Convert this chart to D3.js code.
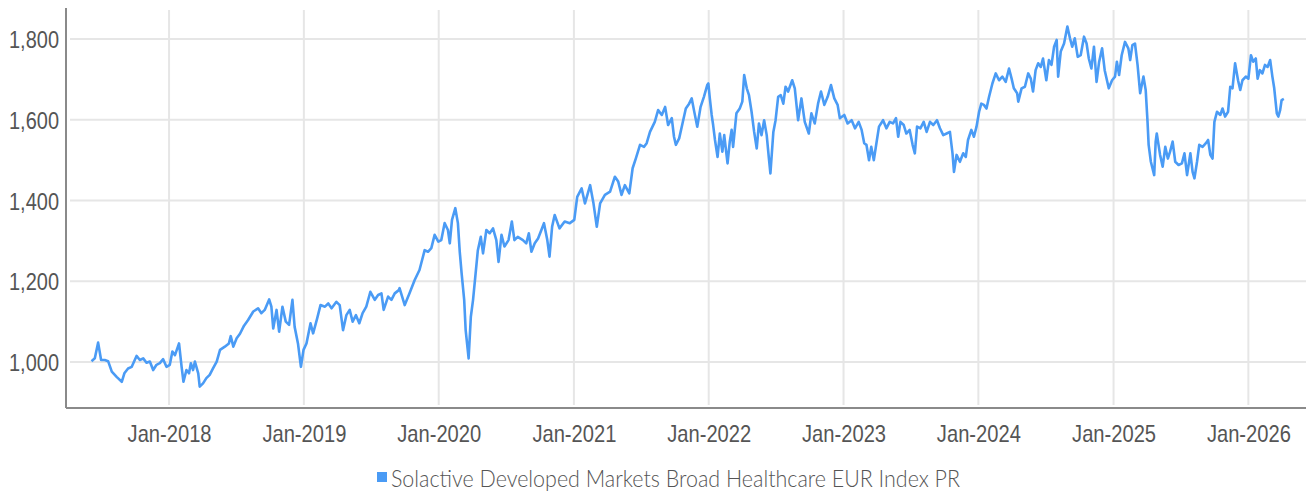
<!DOCTYPE html>
<html>
<head>
<meta charset="utf-8">
<script src="https://cdn.jsdelivr.net/npm/d3@7"></script>
<style>
  body { margin: 0; background: #fff; }
  svg { display: block; font-family: Lato, Roboto, sans-serif; font-weight: 300; }
</style>
</head>
<body>
<svg id="chart" width="1306" height="493"></svg>
<script>
// Index level, [date, value], split by year
const pts2017 = [
    ['2017-06-05', 1002], ['2017-06-14', 1009], ['2017-06-23', 1048], ['2017-07-01', 1005],
    ['2017-07-11', 1005], ['2017-07-20', 1002], ['2017-07-30', 976], ['2017-08-12', 963],
    ['2017-08-26', 951], ['2017-09-02', 972], ['2017-09-12', 984], ['2017-09-22', 988],
    ['2017-10-05', 1015], ['2017-10-14', 1005], ['2017-10-23', 1009], ['2017-11-01', 998],
    ['2017-11-10', 1001], ['2017-11-19', 980], ['2017-11-28', 993], ['2017-12-07', 997],
    ['2017-12-16', 1007], ['2017-12-25', 988],
];
const pts2018 = [
    ['2018-01-03', 993], ['2018-01-10', 1026], ['2018-01-17', 1017], ['2018-01-28', 1046],
    ['2018-02-04', 988], ['2018-02-09', 951], ['2018-02-17', 980], ['2018-02-24', 972],
    ['2018-03-01', 997], ['2018-03-07', 980], ['2018-03-12', 1001], ['2018-03-21', 972],
    ['2018-03-25', 939], ['2018-04-03', 947], ['2018-04-12', 960], ['2018-04-21', 968],
    ['2018-04-30', 984], ['2018-05-10', 1001], ['2018-05-19', 1030], ['2018-06-01', 1038],
    ['2018-06-12', 1046], ['2018-06-17', 1064], ['2018-06-24', 1038], ['2018-07-03', 1059],
    ['2018-07-12', 1070], ['2018-07-23', 1090], ['2018-08-03', 1104], ['2018-08-17', 1125],
    ['2018-08-30', 1133], ['2018-09-08', 1121], ['2018-09-17', 1129], ['2018-09-29', 1155],
    ['2018-10-05', 1137], ['2018-10-10', 1083], ['2018-10-19', 1129], ['2018-10-26', 1075],
    ['2018-11-04', 1137], ['2018-11-13', 1100], ['2018-11-22', 1092], ['2018-12-01', 1154],
    ['2018-12-07', 1087], ['2018-12-16', 1046], ['2018-12-24', 988], ['2018-12-31', 1030],
];
const pts2019 = [
    ['2019-01-08', 1046], ['2019-01-19', 1096], ['2019-01-26', 1071], ['2019-02-06', 1108],
    ['2019-02-15', 1141], ['2019-02-27', 1137], ['2019-03-08', 1145], ['2019-03-17', 1133],
    ['2019-03-30', 1149], ['2019-04-08', 1141], ['2019-04-17', 1079], ['2019-04-26', 1116],
    ['2019-05-05', 1129], ['2019-05-13', 1100], ['2019-05-22', 1116], ['2019-05-31', 1096],
    ['2019-06-09', 1121], ['2019-06-19', 1137], ['2019-06-30', 1174], ['2019-07-12', 1154],
    ['2019-07-21', 1166], ['2019-07-30', 1170], ['2019-08-05', 1129], ['2019-08-17', 1162],
    ['2019-08-26', 1154], ['2019-09-04', 1170], ['2019-09-15', 1178], ['2019-09-17', 1183],
    ['2019-10-01', 1141], ['2019-10-14', 1170], ['2019-10-28', 1203], ['2019-11-10', 1228],
    ['2019-11-24', 1277], ['2019-12-03', 1273], ['2019-12-12', 1282], ['2019-12-21', 1315],
    ['2019-12-31', 1298],
];
const pts2020 = [
    ['2020-01-08', 1302], ['2020-01-17', 1344], ['2020-01-26', 1327], ['2020-01-31', 1294],
    ['2020-02-06', 1352], ['2020-02-15', 1381], ['2020-02-22', 1344], ['2020-02-27', 1273],
    ['2020-03-03', 1220], ['2020-03-10', 1154], ['2020-03-14', 1079], ['2020-03-22', 1009],
    ['2020-03-28', 1112], ['2020-04-03', 1154], ['2020-04-10', 1220], ['2020-04-16', 1277],
    ['2020-04-24', 1310], ['2020-04-30', 1269], ['2020-05-09', 1327], ['2020-05-18', 1319],
    ['2020-05-27', 1331], ['2020-06-05', 1302], ['2020-06-11', 1248], ['2020-06-19', 1315],
    ['2020-06-27', 1286], ['2020-07-08', 1302], ['2020-07-17', 1348], ['2020-07-24', 1302],
    ['2020-08-02', 1310], ['2020-08-16', 1302], ['2020-08-25', 1294], ['2020-09-01', 1319],
    ['2020-09-08', 1273], ['2020-09-17', 1294], ['2020-09-26', 1306], ['2020-10-05', 1327],
    ['2020-10-12', 1344], ['2020-10-21', 1302], ['2020-10-27', 1261], ['2020-11-03', 1335],
    ['2020-11-08', 1356], ['2020-11-10', 1364], ['2020-11-23', 1331], ['2020-12-07', 1348],
    ['2020-12-21', 1344],
];
const pts2021 = [
    ['2021-01-02', 1352], ['2021-01-10', 1409], ['2021-01-22', 1430], ['2021-01-31', 1393],
    ['2021-02-14', 1438], ['2021-02-23', 1393], ['2021-03-04', 1335], ['2021-03-13', 1393],
    ['2021-03-26', 1414], ['2021-04-09', 1422], ['2021-04-22', 1459], ['2021-05-01', 1447],
    ['2021-05-10', 1414], ['2021-05-19', 1438], ['2021-05-31', 1418], ['2021-06-09', 1480],
    ['2021-06-18', 1505], ['2021-06-29', 1538], ['2021-07-10', 1533], ['2021-07-17', 1542],
    ['2021-07-26', 1570], ['2021-08-08', 1595], ['2021-08-17', 1624], ['2021-08-27', 1612],
    ['2021-09-05', 1632], ['2021-09-13', 1587], ['2021-09-23', 1604], ['2021-09-29', 1558],
    ['2021-10-04', 1538], ['2021-10-13', 1554], ['2021-10-22', 1591], ['2021-10-31', 1628],
    ['2021-11-09', 1640], ['2021-11-16', 1653], ['2021-11-22', 1624], ['2021-12-01', 1583],
    ['2021-12-10', 1632], ['2021-12-19', 1657], ['2021-12-28', 1686], ['2021-12-31', 1690],
];
const pts2022 = [
    ['2022-01-04', 1653], ['2022-01-09', 1612], ['2022-01-13', 1587], ['2022-01-18', 1550],
    ['2022-01-25', 1508], ['2022-01-31', 1566], ['2022-02-07', 1521], ['2022-02-12', 1562],
    ['2022-02-21', 1492], ['2022-02-27', 1546], ['2022-03-04', 1575], ['2022-03-08', 1533],
    ['2022-03-17', 1616], ['2022-03-26', 1628], ['2022-04-02', 1645], ['2022-04-07', 1711],
    ['2022-04-14', 1678], ['2022-04-20', 1661], ['2022-04-27', 1620], ['2022-05-04', 1570],
    ['2022-05-11', 1529], ['2022-05-17', 1591], ['2022-05-24', 1562], ['2022-05-31', 1599],
    ['2022-06-07', 1562], ['2022-06-13', 1504], ['2022-06-17', 1467], ['2022-06-25', 1570],
    ['2022-07-01', 1599], ['2022-07-08', 1657], ['2022-07-15', 1661], ['2022-07-22', 1640],
    ['2022-07-28', 1682], ['2022-08-04', 1670], ['2022-08-15', 1698], ['2022-08-22', 1678],
    ['2022-08-31', 1599], ['2022-09-09', 1653], ['2022-09-18', 1595], ['2022-09-29', 1566],
    ['2022-10-06', 1616], ['2022-10-15', 1591], ['2022-10-24', 1640], ['2022-11-01', 1670],
    ['2022-11-10', 1637], ['2022-11-19', 1657], ['2022-11-28', 1686], ['2022-12-07', 1653],
    ['2022-12-16', 1637], ['2022-12-22', 1604],
];
const pts2023 = [
    ['2023-01-03', 1612], ['2023-01-12', 1591], ['2023-01-23', 1599], ['2023-02-01', 1579],
    ['2023-02-11', 1595], ['2023-02-19', 1575], ['2023-02-26', 1542], ['2023-03-04', 1538],
    ['2023-03-11', 1500], ['2023-03-17', 1533], ['2023-03-24', 1500], ['2023-03-31', 1542],
    ['2023-04-07', 1583], ['2023-04-18', 1599], ['2023-04-27', 1579], ['2023-05-06', 1595],
    ['2023-05-15', 1591], ['2023-05-23', 1604], ['2023-05-29', 1558], ['2023-06-04', 1595],
    ['2023-06-13', 1587], ['2023-06-20', 1566], ['2023-06-29', 1575], ['2023-07-07', 1538],
    ['2023-07-13', 1517], ['2023-07-19', 1583], ['2023-07-28', 1579], ['2023-08-06', 1595],
    ['2023-08-14', 1570], ['2023-08-23', 1595], ['2023-09-01', 1587], ['2023-09-11', 1599],
    ['2023-09-19', 1579], ['2023-09-28', 1562], ['2023-10-07', 1566], ['2023-10-16', 1570],
    ['2023-10-23', 1517], ['2023-10-27', 1471], ['2023-11-03', 1513], ['2023-11-12', 1496],
    ['2023-11-21', 1517], ['2023-11-28', 1508], ['2023-12-04', 1550], ['2023-12-13', 1575],
    ['2023-12-20', 1558], ['2023-12-27', 1583],
];
const pts2024 = [
    ['2024-01-03', 1620], ['2024-01-09', 1640], ['2024-01-16', 1637], ['2024-01-23', 1628],
    ['2024-01-30', 1657], ['2024-02-08', 1690], ['2024-02-17', 1715], ['2024-02-26', 1698],
    ['2024-03-06', 1707], ['2024-03-15', 1694], ['2024-03-24', 1727], ['2024-03-31', 1702],
    ['2024-04-06', 1678], ['2024-04-15', 1666], ['2024-04-18', 1645], ['2024-04-27', 1678],
    ['2024-05-06', 1682], ['2024-05-15', 1715], ['2024-05-22', 1702], ['2024-05-28', 1670],
    ['2024-06-04', 1723], ['2024-06-11', 1740], ['2024-06-18', 1731], ['2024-06-24', 1752],
    ['2024-07-03', 1698], ['2024-07-10', 1748], ['2024-07-17', 1736], ['2024-07-24', 1781],
    ['2024-07-31', 1798], ['2024-08-04', 1707], ['2024-08-11', 1769], ['2024-08-20', 1789],
    ['2024-08-29', 1831], ['2024-09-05', 1802], ['2024-09-11', 1781], ['2024-09-18', 1802],
    ['2024-09-26', 1756], ['2024-10-04', 1760], ['2024-10-13', 1806], ['2024-10-20', 1789],
    ['2024-10-26', 1752], ['2024-11-02', 1727], ['2024-11-09', 1781], ['2024-11-16', 1694],
    ['2024-11-23', 1744], ['2024-12-01', 1777], ['2024-12-08', 1723], ['2024-12-19', 1678],
    ['2024-12-28', 1698],
];
const pts2025 = [
    ['2025-01-05', 1707], ['2025-01-10', 1744], ['2025-01-16', 1711], ['2025-01-23', 1760],
    ['2025-02-01', 1793], ['2025-02-10', 1777], ['2025-02-15', 1748], ['2025-02-21', 1785],
    ['2025-02-28', 1789], ['2025-03-07', 1736], ['2025-03-14', 1666], ['2025-03-23', 1707],
    ['2025-03-29', 1674], ['2025-04-03', 1595], ['2025-04-06', 1538], ['2025-04-12', 1496],
    ['2025-04-21', 1463], ['2025-04-25', 1546], ['2025-04-28', 1566], ['2025-05-07', 1513],
    ['2025-05-14', 1484], ['2025-05-21', 1533], ['2025-05-28', 1504], ['2025-06-03', 1521],
    ['2025-06-10', 1546], ['2025-06-17', 1496], ['2025-06-26', 1488], ['2025-07-05', 1492],
    ['2025-07-12', 1517], ['2025-07-19', 1463], ['2025-07-28', 1517], ['2025-08-03', 1471],
    ['2025-08-08', 1455], ['2025-08-15', 1496], ['2025-08-21', 1538], ['2025-08-30', 1533],
    ['2025-09-08', 1542], ['2025-09-14', 1550], ['2025-09-20', 1513], ['2025-09-26', 1504],
    ['2025-10-01', 1595], ['2025-10-08', 1620], ['2025-10-17', 1612], ['2025-10-23', 1628],
    ['2025-10-30', 1608], ['2025-11-07', 1620], ['2025-11-13', 1682], ['2025-11-19', 1678],
    ['2025-11-26', 1740], ['2025-12-04', 1698], ['2025-12-10', 1674], ['2025-12-16', 1698],
    ['2025-12-25', 1707],
];
const pts2026 = [
    ['2026-01-01', 1702], ['2026-01-08', 1760], ['2026-01-14', 1744], ['2026-01-21', 1752],
    ['2026-01-26', 1702], ['2026-02-01', 1723], ['2026-02-08', 1715], ['2026-02-15', 1736],
    ['2026-02-22', 1731], ['2026-03-01', 1748], ['2026-03-07', 1707], ['2026-03-12', 1678],
    ['2026-03-19', 1616], ['2026-03-23', 1608], ['2026-03-28', 1624], ['2026-04-01', 1649],
    ['2026-04-07', 1652],
];

const yTicks = [1000, 1200, 1400, 1600, 1800];
const xTicks = ['2018-01-01', '2019-01-01', '2020-01-01', '2021-01-01', '2022-01-01',
    '2023-01-01', '2024-01-01', '2025-01-01', '2026-01-01'];
const seriesName = 'Solactive Developed Markets Broad Healthcare EUR Index PR';

const lineColor = '#4a9bf5';
const gridColor = '#e6e6e6';
const axisColor = '#8a8a8a';
const textColor = '#555';

const parseDate = d3.timeParse('%Y-%m-%d');
const data = [].concat(pts2017, pts2018, pts2019, pts2020, pts2021, pts2022,
    pts2023, pts2024, pts2025, pts2026).map(([d, v]) => ({ date: parseDate(d), value: v }));

const dims = { left: 66, right: 1306, top: 8, bottom: 408 };

const svg = d3.select('#chart');

const x = d3.scaleTime()
    .domain([parseDate('2017-03-28'), parseDate('2026-06-06')])
    .range([dims.left, dims.right]);
const y = d3.scaleLinear()
    .domain([886, 1877])
    .range([dims.bottom, dims.top]);

// grid
svg.append('g').selectAll('line.h')
    .data(yTicks)
    .join('line')
        .attr('x1', dims.left + 4).attr('x2', dims.right)
        .attr('y1', d => y(d)).attr('y2', d => y(d))
        .attr('stroke', gridColor).attr('stroke-width', 2);
svg.append('g').selectAll('line.v')
    .data(xTicks.map(parseDate))
    .join('line')
        .attr('x1', d => x(d)).attr('x2', d => x(d))
        .attr('y1', dims.top + 2).attr('y2', dims.bottom - 3)
        .attr('stroke', gridColor).attr('stroke-width', 2);

// axes
const yAxis = svg.append('g')
    .attr('transform', `translate(${dims.left - 7},0)`)
    .call(d3.axisLeft(y).tickValues(yTicks).tickFormat(d3.format(',')).tickSize(0).tickPadding(0));
yAxis.select('.domain').remove();
yAxis.selectAll('text').attr('dy', '0.36em');

const xAxis = svg.append('g')
    .attr('transform', `translate(0,${dims.bottom})`)
    .call(d3.axisBottom(x).tickValues(xTicks.map(parseDate)).tickFormat(d3.timeFormat('%b-%Y')).tickSize(0).tickPadding(0));
xAxis.select('.domain').remove();
xAxis.selectAll('text').attr('dy', null).attr('y', 34);

svg.selectAll('.tick text')
    .attr('font-family', null)
    .attr('font-size', 24)
    .attr('fill', textColor);

svg.append('line')
    .attr('x1', dims.left).attr('x2', dims.left)
    .attr('y1', dims.top).attr('y2', dims.bottom)
    .attr('stroke', axisColor).attr('stroke-width', 2);
svg.append('line')
    .attr('x1', dims.left).attr('x2', dims.right)
    .attr('y1', dims.bottom).attr('y2', dims.bottom)
    .attr('stroke', axisColor).attr('stroke-width', 2);

// series
const line = d3.line()
    .x(d => x(d.date))
    .y(d => y(d.value));
svg.append('path')
    .datum(data)
    .attr('fill', 'none')
    .attr('stroke', lineColor)
    .attr('stroke-width', 2.6)
    .attr('stroke-linejoin', 'round')
    .attr('d', line);

// legend
const legend = svg.append('g');
legend.append('rect')
    .attr('x', 377).attr('y', 472)
    .attr('width', 10).attr('height', 10)
    .attr('fill', lineColor);
legend.append('text')
    .attr('x', 391).attr('y', 487)
    .attr('font-size', 24)
    .attr('fill', textColor)
    .text(seriesName);

// squeeze the glyphs to the narrow face of the original
const squeeze = (sel, k) => sel.each(function () {
    const w = this.getComputedTextLength();
    d3.select(this).attr('textLength', w * k).attr('lengthAdjust', 'spacingAndGlyphs');
});
const legendText = legend.select('text');
const kLegend = 569 / legendText.node().getComputedTextLength();
squeeze(legendText, kLegend);
squeeze(yAxis.selectAll('text'), 50 / yAxis.select('text').node().getComputedTextLength());
squeeze(xAxis.selectAll('text'), 84 / xAxis.select('text').node().getComputedTextLength());
</script>
</body>
</html>
